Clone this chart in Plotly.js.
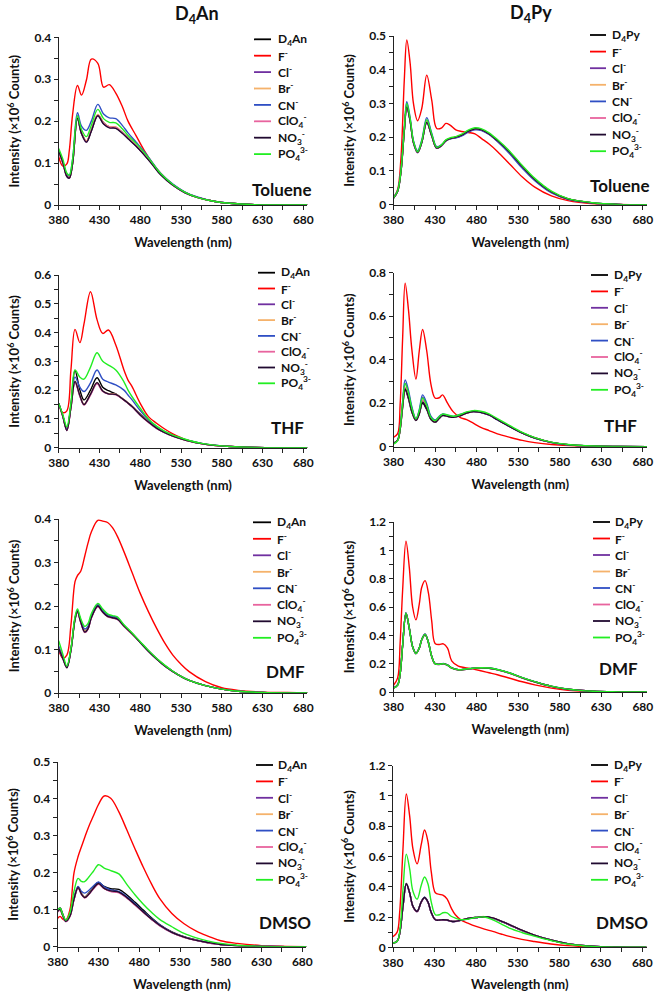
<!DOCTYPE html>
<html><head><meta charset="utf-8">
<script src="https://cdn.plot.ly/plotly-3.0.1.min.js"></script>
<style>html,body{margin:0;padding:0;background:#fff}#chart{width:658px;height:1002px}</style>
</head><body><div id="chart"></div>
<script>
// ---------- Series labels & colours ----------
const seriesKeys = ['D4','F','Cl','Br','CN','ClO4','NO3','PO4'];
const anionLabels = ['F<sup>-</sup>','Cl<sup>-</sup>','Br<sup>-</sup>','CN<sup>-</sup>','ClO<sub>4</sub><sup>-</sup>','NO<sub>3</sub><sup>-</sup>','PO<sub>4</sub><sup>3-</sup>'];
const hostLabels = ['D<sub>4</sub>An','D<sub>4</sub>Py'];
const solvents = ['Toluene','THF','DMF','DMSO'];
const colors = ['#000000','#ff0000','#7030a0','#f5b26b','#2f4fc4','#e8649e','#200a30','#22ee22'];

// ---------- Panel 1: D4An, Toluene ----------
const anTol_wl  = [380,385,390,393,397,403,408,414,420,428,435,442,450,458,465,475,485,495,505,520,535,550,570,590,620,650,685];
const anTol_D4  = [.128,.102,.070,.065,.100,.207,.172,.152,.178,.215,.196,.186,.185,.173,.160,.142,.121,.098,.074,.048,.030,.018,.009,.004,.001,0,0];
const anTol_F   = [.115,.093,.098,.130,.215,.285,.262,.298,.348,.338,.281,.287,.267,.235,.200,.165,.130,.100,.076,.049,.030,.018,.009,.004,.001,0,0];
const anTol_Cl  = [.127,.101,.068,.064,.098,.205,.170,.150,.177,.213,.194,.185,.184,.172,.159,.141,.120,.097,.073,.047,.029,.018,.009,.004,.001,0,0];
const anTol_Br  = [.128,.102,.069,.065,.099,.208,.172,.153,.179,.216,.196,.187,.186,.173,.160,.142,.121,.098,.074,.048,.030,.018,.009,.004,.001,0,0];
const anTol_CN  = [.130,.105,.074,.071,.108,.220,.188,.178,.200,.240,.217,.208,.206,.190,.172,.150,.127,.101,.076,.050,.031,.019,.009,.004,.001,0,0];
const anTol_ClO4= [.127,.101,.069,.065,.099,.206,.171,.151,.178,.214,.195,.186,.185,.172,.159,.141,.120,.097,.073,.047,.029,.018,.009,.004,.001,0,0];
const anTol_NO3 = [.128,.102,.068,.064,.098,.207,.170,.150,.176,.213,.193,.184,.183,.171,.158,.140,.119,.096,.072,.047,.029,.018,.009,.004,.001,0,0];
const anTol_PO4 = [.135,.110,.076,.071,.108,.213,.180,.163,.190,.228,.206,.197,.196,.182,.166,.147,.125,.100,.075,.049,.030,.018,.009,.004,.001,0,0];

// ---------- Panel 2: D4Py, Toluene ----------
const pyTol_wl  = [380,385,389,393,396,400,404,409,414,420,426,432,438,443,448,455,462,470,478,486,495,505,520,535,550,570,590,620,650,685];
const pyTol_D4  = [.020,.040,.100,.220,.292,.250,.185,.155,.185,.245,.205,.168,.176,.190,.196,.200,.206,.218,.225,.222,.210,.190,.155,.113,.075,.038,.017,.005,.001,0];
const pyTol_F   = [.020,.045,.140,.370,.488,.420,.300,.249,.285,.384,.310,.226,.228,.241,.236,.222,.217,.214,.210,.196,.180,.158,.120,.082,.052,.026,.012,.003,.001,0];
const pyTol_Cl  = [.020,.040,.098,.218,.290,.248,.183,.154,.184,.243,.203,.167,.175,.189,.195,.199,.205,.217,.224,.221,.209,.189,.154,.112,.074,.037,.017,.005,.001,0];
const pyTol_Br  = [.021,.041,.100,.222,.295,.252,.186,.156,.187,.248,.206,.169,.177,.191,.197,.201,.207,.219,.226,.223,.211,.191,.156,.114,.076,.038,.017,.005,.001,0];
const pyTol_CN  = [.021,.042,.104,.228,.305,.258,.190,.160,.192,.258,.212,.172,.178,.190,.195,.198,.204,.215,.222,.220,.208,.187,.150,.108,.071,.035,.016,.005,.001,0];
const pyTol_ClO4= [.020,.040,.099,.220,.291,.249,.184,.155,.185,.246,.204,.168,.176,.190,.196,.200,.206,.218,.225,.222,.210,.190,.155,.113,.075,.038,.017,.005,.001,0];
const pyTol_NO3 = [.020,.040,.099,.219,.290,.248,.184,.155,.184,.244,.204,.168,.176,.190,.196,.200,.206,.218,.225,.222,.210,.190,.155,.113,.075,.038,.017,.005,.001,0];
const pyTol_PO4 = [.020,.041,.101,.225,.300,.255,.188,.157,.188,.252,.209,.170,.178,.192,.198,.202,.209,.221,.228,.225,.213,.193,.158,.116,.078,.040,.018,.006,.001,0];

// ---------- Panel 3: D4An, THF ----------
const anTHF_wl  = [380,385,390,395,400,406,411,419,427,434,441,450,460,465,470,480,490,500,510,520,530,540,555,570,590,620,650,685];
const anTHF_D4  = [.154,.110,.062,.150,.268,.200,.166,.200,.243,.210,.198,.187,.166,.155,.143,.117,.092,.071,.055,.042,.032,.024,.015,.009,.004,.001,0,0];
const anTHF_F   = [.154,.122,.128,.270,.411,.365,.430,.542,.445,.397,.409,.357,.270,.235,.212,.154,.108,.085,.065,.048,.035,.024,.014,.008,.004,.001,0,0];
const anTHF_Cl  = [.154,.110,.060,.140,.229,.180,.150,.185,.224,.196,.187,.185,.166,.155,.143,.114,.089,.067,.052,.040,.031,.023,.014,.008,.004,.001,0,0];
const anTHF_Br  = [.153,.110,.061,.140,.232,.182,.152,.187,.226,.197,.188,.186,.167,.156,.144,.115,.090,.068,.053,.041,.031,.023,.014,.008,.004,.001,0,0];
const anTHF_CN  = [.154,.112,.065,.145,.245,.210,.195,.225,.270,.238,.228,.218,.200,.183,.166,.129,.097,.073,.056,.043,.033,.024,.015,.009,.004,.001,0,0];
const anTHF_ClO4= [.153,.110,.060,.138,.226,.178,.148,.183,.222,.195,.186,.184,.165,.154,.142,.113,.088,.067,.052,.040,.031,.023,.014,.008,.004,.001,0,0];
const anTHF_NO3 = [.154,.110,.060,.140,.230,.181,.150,.186,.226,.197,.187,.185,.166,.155,.143,.114,.089,.068,.052,.040,.031,.023,.014,.008,.004,.001,0,0];
const anTHF_PO4 = [.154,.115,.073,.155,.270,.245,.238,.280,.330,.300,.287,.270,.229,.200,.177,.137,.100,.075,.057,.044,.034,.025,.015,.009,.004,.001,0,0];

// ---------- Panel 4: D4Py, THF ----------
const pyTHF_wl  = [380,385,388,391,394,398,402,407,411,415,420,425,430,435,439,445,452,460,468,476,485,495,505,520,535,550,570,590,620,650,685];
const pyTHF_D4  = [.015,.030,.080,.180,.260,.220,.160,.120,.150,.200,.170,.125,.112,.130,.143,.140,.135,.142,.155,.162,.158,.146,.124,.093,.063,.040,.020,.009,.003,.001,0];
const pyTHF_F   = [.043,.060,.196,.500,.752,.630,.450,.311,.440,.539,.440,.288,.224,.225,.238,.200,.160,.135,.124,.108,.089,.074,.059,.043,.029,.019,.010,.005,.001,0,0];
const pyTHF_Cl  = [.014,.030,.085,.200,.290,.245,.175,.128,.160,.228,.190,.135,.118,.135,.148,.143,.137,.144,.157,.163,.159,.147,.125,.093,.064,.041,.020,.009,.003,.001,0];
const pyTHF_Br  = [.015,.030,.082,.190,.275,.232,.168,.124,.155,.212,.180,.130,.115,.132,.145,.141,.136,.143,.156,.163,.159,.147,.125,.093,.064,.041,.020,.009,.003,.001,0];
const pyTHF_CN  = [.015,.032,.090,.210,.307,.260,.185,.127,.170,.238,.200,.140,.123,.140,.150,.145,.139,.148,.158,.162,.157,.145,.123,.092,.062,.040,.019,.009,.003,.001,0];
const pyTHF_ClO4= [.014,.030,.080,.190,.270,.228,.165,.122,.153,.215,.178,.128,.114,.131,.145,.140,.135,.142,.155,.162,.158,.146,.124,.093,.063,.040,.020,.009,.003,.001,0];
const pyTHF_NO3 = [.015,.030,.080,.185,.265,.225,.163,.121,.152,.205,.175,.127,.113,.131,.144,.140,.135,.142,.155,.162,.158,.146,.124,.092,.063,.040,.020,.009,.003,.001,0];
const pyTHF_PO4 = [.012,.028,.085,.200,.291,.248,.178,.128,.165,.224,.190,.135,.120,.138,.150,.146,.140,.148,.160,.166,.163,.151,.129,.097,.066,.042,.021,.010,.003,.001,0];

// ---------- Panel 5: D4An, DMF ----------
const anDMF_wl  = [380,385,390,395,400,403,407,412,416,420,428,434,440,446,452,460,470,480,490,500,510,520,530,540,560,580,600,630,660,685];
const anDMF_D4  = [.100,.080,.060,.100,.170,.188,.165,.142,.150,.175,.201,.188,.178,.175,.172,.155,.137,.117,.097,.079,.063,.050,.038,.029,.017,.009,.004,.001,0,0];
const anDMF_F   = [.100,.080,.087,.156,.256,.270,.280,.315,.345,.370,.397,.395,.392,.380,.360,.325,.277,.229,.187,.149,.115,.087,.066,.049,.026,.012,.006,.002,.001,0];
const anDMF_Cl  = [.100,.080,.059,.100,.170,.187,.163,.140,.148,.173,.199,.186,.176,.173,.170,.154,.136,.116,.096,.078,.062,.049,.038,.029,.017,.009,.004,.001,0,0];
const anDMF_Br  = [.105,.082,.060,.100,.172,.190,.166,.144,.152,.177,.203,.190,.180,.176,.172,.155,.137,.117,.097,.079,.063,.050,.038,.029,.017,.009,.004,.001,0,0];
const anDMF_CN  = [.108,.083,.060,.100,.172,.190,.167,.147,.154,.178,.203,.190,.180,.176,.173,.156,.137,.117,.097,.079,.063,.050,.038,.029,.017,.009,.004,.001,0,0];
const anDMF_ClO4= [.103,.080,.058,.098,.168,.186,.162,.139,.147,.172,.198,.185,.175,.172,.169,.153,.135,.116,.096,.078,.062,.049,.038,.029,.017,.009,.004,.001,0,0];
const anDMF_NO3 = [.102,.080,.058,.098,.169,.187,.163,.140,.148,.173,.200,.186,.176,.173,.170,.154,.136,.116,.096,.078,.062,.049,.038,.029,.017,.009,.004,.001,0,0];
const anDMF_PO4 = [.120,.090,.062,.102,.175,.193,.171,.153,.160,.182,.206,.193,.182,.178,.175,.157,.138,.118,.098,.080,.064,.050,.038,.029,.017,.009,.004,.001,0,0];

// ---------- Panel 6: D4Py, DMF ----------
const pyDMF_wl  = [380,385,388,391,395,399,403,407,411,414,418,422,426,430,435,440,445,450,458,466,475,485,495,505,520,535,550,570,590,620,650,685];
const pyDMF_D4  = [.028,.050,.130,.330,.556,.450,.320,.272,.310,.370,.407,.350,.250,.200,.195,.200,.190,.170,.157,.160,.167,.170,.168,.158,.133,.100,.072,.040,.019,.005,.001,0];
const pyDMF_F   = [.047,.100,.350,.720,1.065,.880,.600,.509,.620,.740,.786,.700,.500,.343,.335,.340,.310,.220,.182,.172,.163,.150,.136,.122,.097,.072,.050,.027,.012,.003,.001,0];
const pyDMF_Cl  = [.028,.049,.128,.328,.552,.447,.318,.270,.308,.368,.404,.348,.249,.199,.194,.199,.189,.169,.156,.159,.166,.169,.167,.157,.132,.099,.071,.040,.019,.005,.001,0];
const pyDMF_Br  = [.028,.050,.131,.332,.558,.452,.321,.273,.311,.371,.408,.351,.251,.200,.195,.200,.190,.170,.157,.160,.167,.170,.168,.158,.133,.100,.072,.040,.019,.005,.001,0];
const pyDMF_CN  = [.029,.051,.132,.334,.560,.453,.322,.274,.312,.372,.409,.352,.252,.201,.196,.201,.191,.171,.158,.161,.168,.171,.169,.159,.134,.101,.073,.041,.019,.005,.001,0];
const pyDMF_ClO4= [.028,.050,.129,.329,.554,.449,.319,.271,.309,.369,.405,.349,.250,.199,.194,.199,.189,.169,.156,.159,.166,.169,.167,.157,.132,.099,.071,.040,.019,.005,.001,0];
const pyDMF_NO3 = [.028,.050,.130,.330,.555,.450,.320,.272,.310,.370,.406,.350,.250,.200,.195,.200,.190,.170,.157,.160,.167,.170,.168,.158,.133,.100,.072,.040,.019,.005,.001,0];
const pyDMF_PO4 = [.027,.049,.130,.331,.557,.451,.320,.271,.310,.370,.407,.350,.251,.200,.195,.200,.190,.170,.157,.161,.168,.171,.169,.159,.134,.101,.073,.041,.020,.005,.001,0];

// ---------- Panel 7: D4An, DMSO ----------
const anDMSO_wl  = [380,383,386,390,395,400,405,409,413,418,424,430,437,445,455,465,475,485,495,505,520,535,550,565,580,600,630,660,685];
const anDMSO_D4  = [.100,.105,.090,.070,.085,.130,.162,.145,.135,.145,.162,.174,.163,.157,.155,.140,.120,.099,.078,.060,.040,.027,.018,.011,.006,.003,.001,0,0];
const anDMSO_F   = [.077,.082,.075,.072,.100,.200,.244,.270,.295,.325,.355,.385,.408,.402,.365,.315,.264,.215,.170,.131,.090,.062,.042,.028,.016,.009,.003,.001,0];
const anDMSO_Cl  = [.095,.100,.085,.068,.082,.128,.160,.143,.133,.142,.158,.170,.158,.150,.147,.132,.113,.093,.074,.057,.038,.026,.017,.010,.006,.003,.001,0,0];
const anDMSO_Br  = [.097,.102,.087,.069,.083,.129,.161,.144,.134,.143,.160,.171,.159,.151,.148,.133,.114,.094,.075,.058,.039,.026,.017,.011,.006,.003,.001,0,0];
const anDMSO_CN  = [.098,.103,.088,.070,.085,.132,.163,.150,.145,.152,.165,.175,.162,.154,.150,.135,.116,.095,.076,.059,.039,.026,.017,.011,.006,.003,.001,0,0];
const anDMSO_ClO4= [.094,.099,.085,.068,.082,.127,.159,.142,.132,.141,.157,.169,.157,.149,.146,.131,.112,.093,.074,.057,.038,.025,.017,.010,.006,.003,.001,0,0];
const anDMSO_NO3 = [.096,.101,.086,.069,.083,.129,.160,.143,.133,.142,.159,.171,.158,.151,.148,.133,.114,.094,.075,.058,.039,.026,.017,.011,.006,.003,.001,0,0];
const anDMSO_PO4 = [.100,.104,.088,.072,.092,.150,.185,.177,.176,.188,.205,.222,.213,.206,.197,.168,.140,.115,.093,.074,.054,.036,.024,.015,.009,.004,.001,0,0];

// ---------- Panel 8: D4Py, DMSO ----------
const pyDMSO_wl  = [380,385,388,392,396,400,404,409,414,418,422,426,431,436,440,445,450,455,462,470,480,490,500,510,520,535,550,570,590,620,650,685];
const pyDMSO_D4  = [.028,.040,.090,.270,.421,.360,.270,.237,.300,.329,.300,.230,.182,.180,.182,.180,.172,.171,.180,.190,.197,.202,.193,.172,.149,.112,.080,.048,.024,.007,.002,0];
const pyDMSO_F   = [.070,.100,.230,.650,1.013,.870,.650,.551,.680,.775,.700,.500,.360,.350,.345,.320,.260,.215,.180,.160,.138,.120,.105,.088,.072,.052,.038,.022,.011,.003,.001,0];
const pyDMSO_Cl  = [.028,.040,.089,.268,.418,.358,.268,.235,.298,.327,.298,.229,.181,.179,.181,.179,.171,.170,.179,.189,.196,.201,.192,.171,.148,.111,.079,.047,.024,.007,.002,0];
const pyDMSO_Br  = [.028,.041,.091,.272,.423,.362,.271,.238,.301,.330,.301,.231,.183,.181,.183,.181,.173,.172,.181,.191,.198,.203,.194,.173,.150,.113,.081,.048,.024,.007,.002,0];
const pyDMSO_CN  = [.028,.040,.090,.271,.422,.361,.271,.238,.301,.331,.301,.231,.183,.180,.182,.180,.172,.171,.180,.190,.197,.202,.193,.172,.149,.112,.080,.048,.024,.007,.002,0];
const pyDMSO_ClO4= [.027,.040,.089,.269,.419,.359,.269,.236,.299,.328,.299,.230,.182,.180,.182,.180,.172,.171,.180,.190,.197,.202,.193,.172,.149,.112,.080,.048,.024,.007,.002,0];
const pyDMSO_NO3 = [.028,.040,.090,.270,.420,.360,.270,.237,.300,.329,.300,.230,.182,.180,.182,.180,.172,.171,.180,.190,.197,.202,.194,.173,.150,.113,.081,.048,.024,.007,.002,0];
const pyDMSO_PO4 = [.028,.040,.100,.380,.616,.520,.370,.318,.410,.465,.420,.300,.215,.215,.228,.228,.205,.193,.182,.185,.197,.200,.182,.155,.127,.098,.074,.045,.022,.006,.001,0];

// ---------- Assemble ----------
const panels = [
  {wl: anTol_wl,  s: [anTol_D4, anTol_F, anTol_Cl, anTol_Br, anTol_CN, anTol_ClO4, anTol_NO3, anTol_PO4]},
  {wl: pyTol_wl,  s: [pyTol_D4, pyTol_F, pyTol_Cl, pyTol_Br, pyTol_CN, pyTol_ClO4, pyTol_NO3, pyTol_PO4]},
  {wl: anTHF_wl,  s: [anTHF_D4, anTHF_F, anTHF_Cl, anTHF_Br, anTHF_CN, anTHF_ClO4, anTHF_NO3, anTHF_PO4]},
  {wl: pyTHF_wl,  s: [pyTHF_D4, pyTHF_F, pyTHF_Cl, pyTHF_Br, pyTHF_CN, pyTHF_ClO4, pyTHF_NO3, pyTHF_PO4]},
  {wl: anDMF_wl,  s: [anDMF_D4, anDMF_F, anDMF_Cl, anDMF_Br, anDMF_CN, anDMF_ClO4, anDMF_NO3, anDMF_PO4]},
  {wl: pyDMF_wl,  s: [pyDMF_D4, pyDMF_F, pyDMF_Cl, pyDMF_Br, pyDMF_CN, pyDMF_ClO4, pyDMF_NO3, pyDMF_PO4]},
  {wl: anDMSO_wl, s: [anDMSO_D4, anDMSO_F, anDMSO_Cl, anDMSO_Br, anDMSO_CN, anDMSO_ClO4, anDMSO_NO3, anDMSO_PO4]},
  {wl: pyDMSO_wl, s: [pyDMSO_D4, pyDMSO_F, pyDMSO_Cl, pyDMSO_Br, pyDMSO_CN, pyDMSO_ClO4, pyDMSO_NO3, pyDMSO_PO4]}
];

const FONT = 'Lato, "Open Sans", Arial, sans-serif';
const W = 658, H = 1002;
const px2x = p => p / W;
const px2y = p => 1 - p / H;

// plot-area pixel boxes [left, right, top, bottom]
const boxes = [
  [58.7, 307.4, 37.3, 205.0],
  [393.5, 647.0, 36.0, 204.7],
  [58.7, 307.4, 275.0, 447.7],
  [393.5, 647.0, 272.7, 446.7],
  [58.7, 307.4, 519.0, 693.0],
  [393.5, 647.0, 522.0, 692.0],
  [57.7, 306.4, 762.0, 946.7],
  [393.0, 646.5, 765.7, 947.3]
];
const yMax   = [0.4, 0.5, 0.6, 0.8, 0.4, 1.2, 0.5, 1.2];
const yDtick = [0.1, 0.1, 0.1, 0.2, 0.1, 0.2, 0.1, 0.2];
// legend key placement: [line start, line end, text left, first row centre, row step] (px)
const legendBox = [
  [254, 271, 277, 39.3, 16.4],
  [590, 606, 611, 35.0, 16.6],
  [258, 275, 280, 272.7, 15.8],
  [591, 608, 613, 275.0, 16.4],
  [253, 271, 276, 522.3, 16.5],
  [593, 610, 614, 522.0, 16.5],
  [256, 273, 277, 765.0, 16.4],
  [591, 608, 613, 765.0, 16.4]
];
const solventPos = [[281,189],[619,185],[287,427],[620,425],[285,671],[618,668],[285,922],[622,922]];

const data = [];
const layout = {
  width: W, height: H,
  margin: {l:0, r:0, t:0, b:0},
  paper_bgcolor: '#fff', plot_bgcolor: 'rgba(0,0,0,0)',
  font: {family: FONT, size: 12, color: '#111', weight: 'bold'},
  showlegend: false,
  annotations: [],
  shapes: []
};

panels.forEach((p, i) => {
  const n = i + 1;
  const xa = 'xaxis' + (n === 1 ? '' : n), ya = 'yaxis' + (n === 1 ? '' : n);
  const xr = 'x' + (n === 1 ? '' : n), yr = 'y' + (n === 1 ? '' : n);
  const host = hostLabels[i % 2];
  const names = [host].concat(anionLabels);
  p.s.forEach((ys, k) => {
    data.push({
      type: 'scatter', mode: 'lines',
      x: p.wl, y: ys,
      xaxis: xr, yaxis: yr,
      name: names[k],
      line: {color: colors[k], width: 1.4, shape: 'spline', smoothing: 1},
      hoverinfo: 'skip'
    });
  });
  const b = boxes[i];
  layout[xa] = {
    domain: [px2x(b[0]), px2x(b[1])], anchor: yr,
    range: [380, 685], tick0: 380, dtick: 50, tickmode: 'linear',
    showline: true, linecolor: '#222', linewidth: 1, mirror: false,
    ticks: 'outside', ticklen: 4, tickcolor: '#222', tickwidth: 1,
    minor: {dtick: 25, tick0: 380, ticks: 'outside', ticklen: 4, tickcolor: '#222', showgrid: false},
    showgrid: false, zeroline: false,
    tickfont: {family: FONT, size: 12, color: '#111', weight: 'bold'},
    title: {text: 'Wavelength (nm)', standoff: 11, font: {family: FONT, size: 13, color: '#111', weight: 'bold'}},
    fixedrange: true
  };
  layout[ya] = {
    domain: [px2y(b[3]), px2y(b[2])], anchor: xr,
    range: [0, yMax[i]], tick0: 0, dtick: yDtick[i], tickmode: 'linear',
    showline: true, linecolor: '#222', linewidth: 1,
    ticks: 'outside', ticklen: 4, tickcolor: '#222', tickwidth: 1,
    minor: {dtick: yDtick[i] / 2, ticks: 'outside', ticklen: 4, tickcolor: '#222', showgrid: false},
    showgrid: false, zeroline: false,
    tickfont: {family: FONT, size: 12, color: '#111', weight: 'bold'},
    title: {text: 'Intensity (×10<sup>6</sup> Counts)', standoff: 11, font: {family: FONT, size: 13, color: '#111', weight: 'bold'}},
    fixedrange: true
  };
  // legend key (one row per series)
  const L = legendBox[i];
  names.forEach((nm, k) => {
    const yc = L[3] + k * L[4];
    layout.shapes.push({
      type: 'line', xref: 'paper', yref: 'paper',
      x0: px2x(L[0]), x1: px2x(L[1]), y0: px2y(yc), y1: px2y(yc),
      line: {color: colors[k], width: 1.8}
    });
    layout.annotations.push({
      xref: 'paper', yref: 'paper', x: px2x(L[2]), y: px2y(yc),
      xanchor: 'left', yanchor: 'middle', showarrow: false, borderpad: 0,
      text: nm, font: {family: FONT, size: 12, color: '#111', weight: 'bold'}
    });
  });
  const S = solventPos[i];
  layout.annotations.push({
    xref: 'paper', yref: 'paper', x: px2x(S[0]), y: px2y(S[1]),
    xanchor: 'center', yanchor: 'middle', showarrow: false,
    text: solvents[Math.floor(i / 2)],
    font: {family: FONT, size: 17, color: '#111', weight: 'bold'}
  });
});

layout.annotations.push(
  {xref:'paper', yref:'paper', x: px2x(197), y: px2y(15), xanchor:'center', yanchor:'middle', showarrow:false,
   text: hostLabels[0], font:{family: FONT, size: 18, color:'#111', weight:'bold'}},
  {xref:'paper', yref:'paper', x: px2x(531), y: px2y(13), xanchor:'center', yanchor:'middle', showarrow:false,
   text: hostLabels[1], font:{family: FONT, size: 18, color:'#111', weight:'bold'}}
);

Plotly.newPlot('chart', data, layout, {displayModeBar: false, staticPlot: true});
</script></body></html>
